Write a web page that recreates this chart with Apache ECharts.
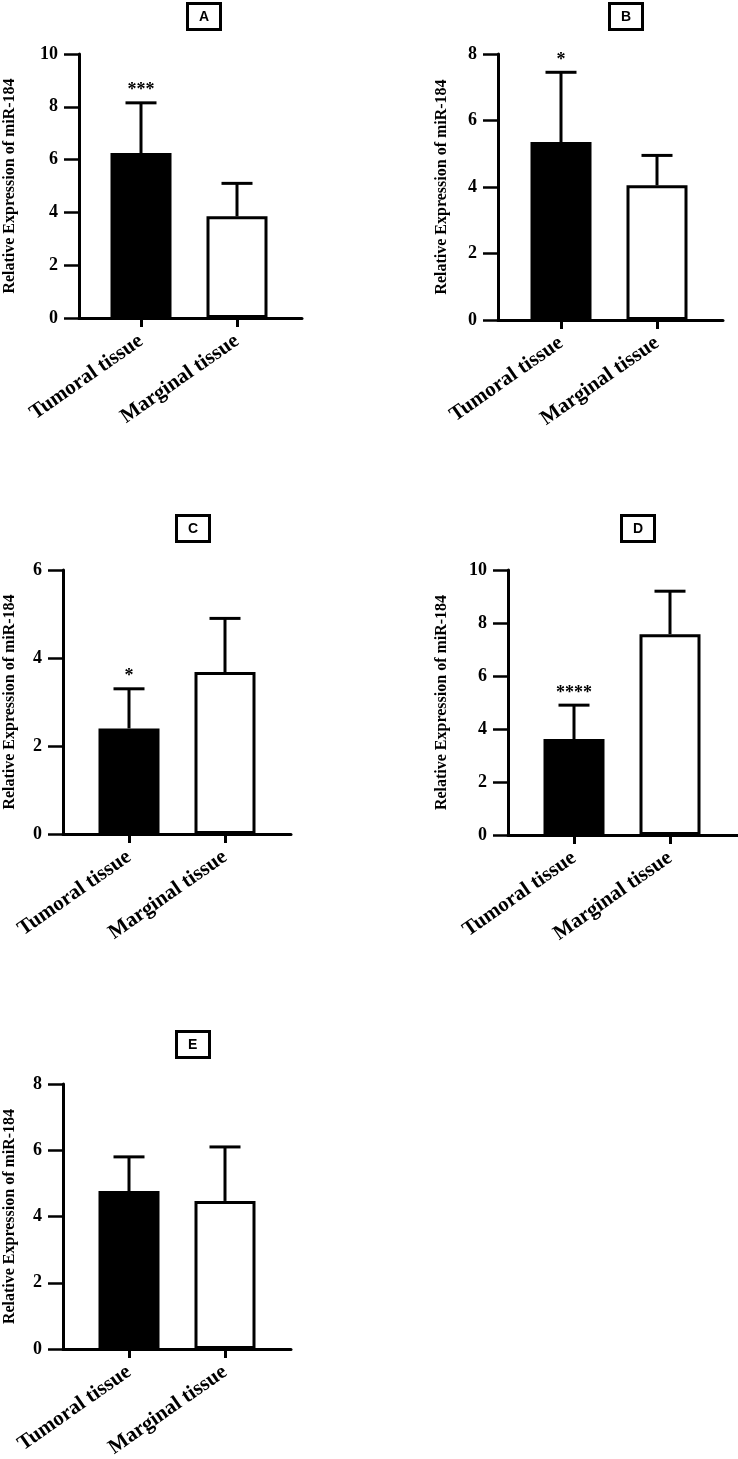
<!DOCTYPE html>
<html><head><meta charset="utf-8">
<script src="https://cdn.jsdelivr.net/npm/echarts@6/dist/echarts.min.js"></script>
<style>html,body{margin:0;padding:0;background:#fff}#chart{width:738px;height:1459px}</style>
</head><body><div id="chart"></div>
<script>
// ---------- data ----------
const categories = ['Tumoral tissue', 'Marginal tissue'];
const panelLabels = ['A', 'B', 'C', 'D', 'E'];
const yAxisName = 'Relative Expression of miR-184';

const meanA = [6.25, 3.85]; const sdA = [1.9, 1.25]; const sigA = ['***', ''];
const meanB = [5.35, 4.05]; const sdB = [2.1, 0.9];  const sigB = ['*', ''];
const meanC = [2.4, 3.68];  const sdC = [0.9, 1.22]; const sigC = ['*', ''];
const meanD = [3.62, 7.58]; const sdD = [1.28, 1.62]; const sigD = ['****', ''];
const meanE = [4.77, 4.47]; const sdE = [1.03, 1.63]; const sigE = ['', ''];

const yMaxA = 10, yMaxB = 8, yMaxC = 6, yMaxD = 10, yMaxE = 8;
const yInterval = 2;

// ---------- layout ----------
const panels = [
  {mean: meanA, sd: sdA, sig: sigA, yMax: yMaxA, left: 79,  top: 54,   width: 223, height: 264, off: 62, nameGap: 61, title: [187, 3]},
  {mean: meanB, sd: sdB, sig: sigB, yMax: yMaxB, left: 498, top: 54,   width: 225, height: 266, off: 63, nameGap: 48, title: [609, 3]},
  {mean: meanC, sd: sdC, sig: sigC, yMax: yMaxC, left: 63,  top: 570,  width: 228, height: 264, off: 66, nameGap: 45, title: [176, 515]},
  {mean: meanD, sd: sdD, sig: sigD, yMax: yMaxD, left: 508, top: 570,  width: 230, height: 265, off: 66, nameGap: 58, title: [621, 515]},
  {mean: meanE, sd: sdE, sig: sigE, yMax: yMaxE, left: 63,  top: 1084, width: 228, height: 265, off: 66, nameGap: 45, title: [176, 1031]}
];
const catSpacing = 96;
const serif = '"Liberation Serif", "Times New Roman", serif';

const option = {
  animation: false,
  backgroundColor: '#fff',
  title: [], grid: [], xAxis: [], yAxis: [], series: []
};

panels.forEach((p, i) => {
  const xmin = -p.off / catSpacing;
  const xmax = xmin + p.width / catSpacing;
  option.title.push({
    text: panelLabels[i], left: p.title[0], top: p.title[1],
    padding: [7, 12, 6, 12], borderWidth: 3, borderColor: '#000',
    textStyle: {fontFamily: '"Liberation Sans", Arial, sans-serif', fontWeight: 'bold', fontSize: 14, color: '#000'}
  });
  option.grid.push({left: p.left, top: p.top, width: p.width, height: p.height, containLabel: false, outerBoundsMode: 'none'});
  option.xAxis.push({
    type: 'value', gridIndex: i, min: xmin, max: xmax,
    splitLine: {show: false},
    axisLine: {show: true, onZero: false, lineStyle: {color: '#000', width: 3}},
    axisTick: {show: true, customValues: [0, 1], length: 9, lineStyle: {color: '#000', width: 3}},
    axisLabel: {
      show: true, customValues: [0, 1], rotate: 35, margin: 21,
      formatter: v => categories[Math.round(v)] || '',
      fontFamily: serif, fontWeight: 'bold', fontSize: 21, color: '#000'
    }
  });
  option.yAxis.push({
    type: 'value', gridIndex: i, min: 0, max: p.yMax, interval: yInterval,
    splitLine: {show: false},
    axisLine: {show: true, onZero: false, lineStyle: {color: '#000', width: 3}},
    axisTick: {show: true, length: 15, lineStyle: {color: '#000', width: 2.5}},
    axisLabel: {fontFamily: serif, fontWeight: 'bold', fontSize: 18, color: '#000', margin: 21},
    name: yAxisName, nameLocation: 'middle', nameGap: p.nameGap,
    nameTextStyle: {fontFamily: serif, fontWeight: 'bold', fontSize: 16, color: '#000'}
  });
  option.series.push({
    type: 'bar', xAxisIndex: i, yAxisIndex: i, barWidth: 61, silent: true, z: 2,
    itemStyle: {borderColor: '#000', borderWidth: 3},
    data: p.mean.map((m, k) => ({value: [k, m], itemStyle: {color: k === 0 ? '#000' : '#fff'}}))
  });
  const sig = p.sig;
  option.series.push({
    type: 'custom', xAxisIndex: i, yAxisIndex: i, silent: true, z: 3,
    encode: {x: 0, y: 1},
    data: p.mean.map((m, k) => [k, m, p.sd[k]]),
    renderItem: (params, api) => {
      const x = api.value(0), m = api.value(1), sd = api.value(2);
      const base = api.coord([x, m]);
      const top = api.coord([x, m + sd]);
      const half = 15.5;
      const children = [
        {type: 'line', shape: {x1: base[0], y1: base[1], x2: top[0], y2: top[1]}, style: {stroke: '#000', lineWidth: 3}},
        {type: 'line', shape: {x1: top[0] - half, y1: top[1], x2: top[0] + half, y2: top[1]}, style: {stroke: '#000', lineWidth: 3}}
      ];
      const s = sig[params.dataIndex];
      if (s) children.push({type: 'text', style: {text: s, x: top[0], y: top[1] - 12, align: 'center', verticalAlign: 'middle',
        font: 'bold 18px ' + serif, fill: '#000'}});
      return {type: 'group', children};
    }
  });
});

const chart = echarts.init(document.getElementById('chart'), null, {renderer: 'canvas'});
chart.setOption(option);
</script>
</body></html>
